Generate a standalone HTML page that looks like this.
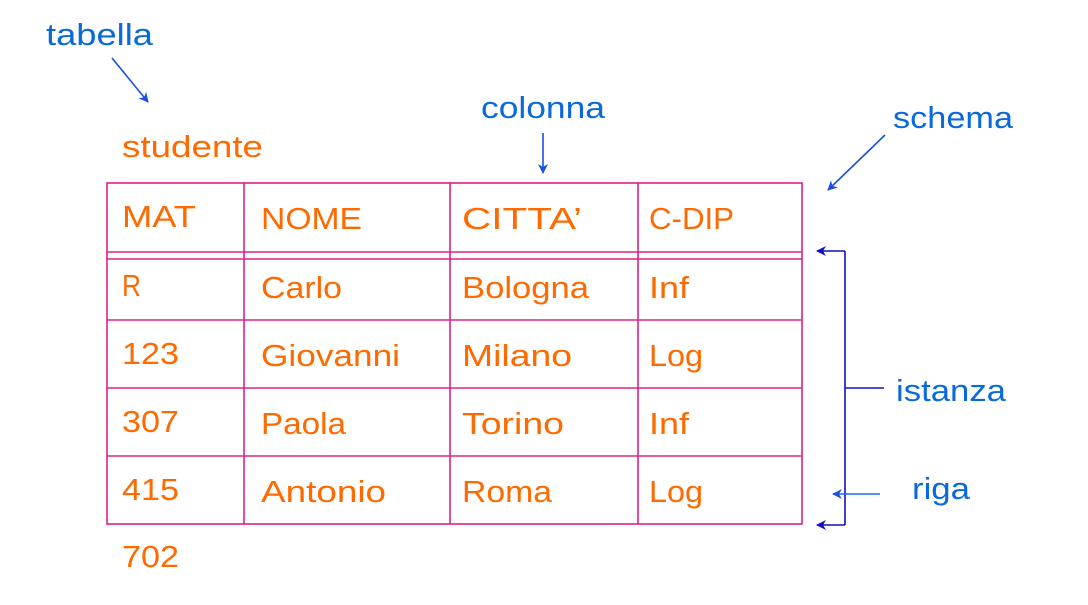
<!DOCTYPE html>
<html><head><style>
html,body{margin:0;padding:0;background:#fff;}
svg{display:block;}
text{font-family:"Liberation Sans",sans-serif;font-size:31px;}
.o{fill:#FF6A00;}
.b{fill:#0A6ADB;}
</style></head><body>
<svg width="1088" height="605" viewBox="0 0 1088 605" xmlns="http://www.w3.org/2000/svg">
<defs>
<marker id="ab" markerWidth="10" markerHeight="10" refX="9" refY="5" orient="auto" markerUnits="userSpaceOnUse"><path d="M0,0 L10,5 L0,10 L3,5 Z" fill="#1A4FE0"/></marker>
<marker id="ad" markerWidth="10" markerHeight="10" refX="9" refY="5" orient="auto" markerUnits="userSpaceOnUse"><path d="M0,0 L10,5 L0,10 L3,5 Z" fill="#1010C8"/></marker>
</defs>
<g stroke="#E0208A" stroke-width="1.6" fill="none">
<rect x="107" y="183" width="695" height="341"/>
<line x1="107" y1="252" x2="802" y2="252"/>
<line x1="107" y1="259" x2="802" y2="259"/>
<line x1="107" y1="320" x2="802" y2="320"/>
<line x1="107" y1="388" x2="802" y2="388"/>
<line x1="107" y1="456" x2="802" y2="456"/>
<line x1="244" y1="183" x2="244" y2="524"/>
<line x1="450" y1="183" x2="450" y2="524"/>
<line x1="638" y1="183" x2="638" y2="524"/>
</g>
<g lengthAdjust="spacingAndGlyphs">
<text class="b" x="46" y="45" textLength="107" lengthAdjust="spacingAndGlyphs">tabella</text>
<text class="b" x="481" y="118" textLength="124" lengthAdjust="spacingAndGlyphs">colonna</text>
<text class="b" x="893" y="128" textLength="120" lengthAdjust="spacingAndGlyphs">schema</text>
<text class="b" x="896" y="401" textLength="110" lengthAdjust="spacingAndGlyphs">istanza</text>
<text class="b" x="912" y="499" textLength="58" lengthAdjust="spacingAndGlyphs">riga</text>
<text class="o" x="122" y="157" textLength="141" lengthAdjust="spacingAndGlyphs">studente</text>
<text class="o" x="122" y="227" textLength="74" lengthAdjust="spacingAndGlyphs">MAT</text>
<text class="o" x="261" y="229" textLength="101" lengthAdjust="spacingAndGlyphs">NOME</text>
<text class="o" x="462" y="229" textLength="120" lengthAdjust="spacingAndGlyphs">CITTA’</text>
<text class="o" x="649" y="229" textLength="85" lengthAdjust="spacingAndGlyphs">C-DIP</text>
<text class="o" x="122" y="296" textLength="19" lengthAdjust="spacingAndGlyphs">R</text>
<text class="o" x="261" y="298" textLength="81" lengthAdjust="spacingAndGlyphs">Carlo</text>
<text class="o" x="462" y="298" textLength="127" lengthAdjust="spacingAndGlyphs">Bologna</text>
<text class="o" x="649" y="298" textLength="40" lengthAdjust="spacingAndGlyphs">Inf</text>
<text class="o" x="122" y="364" textLength="57" lengthAdjust="spacingAndGlyphs">123</text>
<text class="o" x="261" y="366" textLength="139" lengthAdjust="spacingAndGlyphs">Giovanni</text>
<text class="o" x="462" y="366" textLength="110" lengthAdjust="spacingAndGlyphs">Milano</text>
<text class="o" x="649" y="366" textLength="54" lengthAdjust="spacingAndGlyphs">Log</text>
<text class="o" x="122" y="432" textLength="57" lengthAdjust="spacingAndGlyphs">307</text>
<text class="o" x="261" y="434" textLength="85" lengthAdjust="spacingAndGlyphs">Paola</text>
<text class="o" x="462" y="434" textLength="102" lengthAdjust="spacingAndGlyphs">Torino</text>
<text class="o" x="649" y="434" textLength="40" lengthAdjust="spacingAndGlyphs">Inf</text>
<text class="o" x="122" y="500" textLength="57" lengthAdjust="spacingAndGlyphs">415</text>
<text class="o" x="261" y="502" textLength="125" lengthAdjust="spacingAndGlyphs">Antonio</text>
<text class="o" x="462" y="502" textLength="90" lengthAdjust="spacingAndGlyphs">Roma</text>
<text class="o" x="649" y="502" textLength="54" lengthAdjust="spacingAndGlyphs">Log</text>
<text class="o" x="122" y="567" textLength="57" lengthAdjust="spacingAndGlyphs">702</text>
</g>
<g fill="none" stroke-width="1.6">
<line x1="112" y1="58" x2="148" y2="102" stroke="#1A4FE0" marker-end="url(#ab)"/>
<line x1="543" y1="133" x2="543" y2="173" stroke="#1A4FE0" marker-end="url(#ab)"/>
<line x1="885" y1="135" x2="828" y2="190" stroke="#1A4FE0" marker-end="url(#ab)"/>
<polyline points="845,251 845,525" stroke="#1010C8"/>
<line x1="845" y1="251" x2="817" y2="251" stroke="#1010C8" marker-end="url(#ad)"/>
<line x1="845" y1="525" x2="817" y2="525" stroke="#1010C8" marker-end="url(#ad)"/>
<line x1="845" y1="388" x2="884" y2="388" stroke="#1010C8"/>
<line x1="880" y1="494" x2="833" y2="494" stroke="#1A6AE8" marker-end="url(#ab)"/>
</g>
</svg>
</body></html>
